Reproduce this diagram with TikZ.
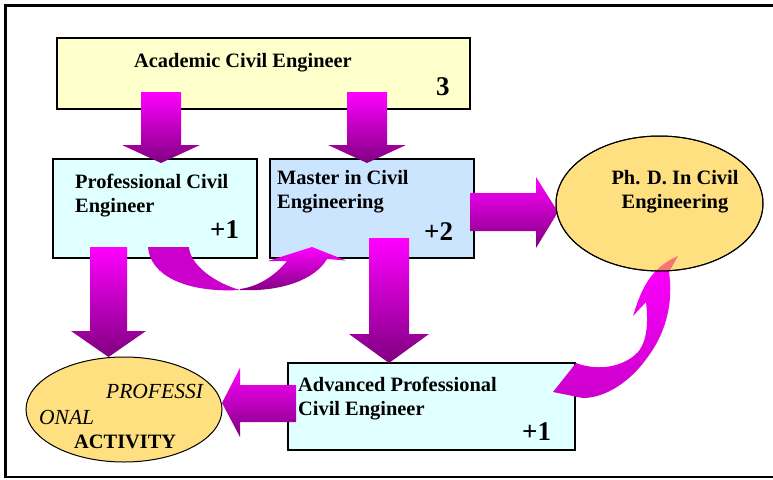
\documentclass[tikz,border=0pt]{standalone}
\usepackage{fontspec}
\setmainfont{Liberation Serif}
\usetikzlibrary{shapes.geometric}

\definecolor{acadfill}{RGB}{255,255,204}
\definecolor{cyanfill}{RGB}{224,255,255}
\definecolor{bluefill}{RGB}{204,229,255}
\definecolor{goldfill}{RGB}{255,224,128}
\definecolor{mag}{RGB}{255,0,255}
\definecolor{mag2}{RGB}{204,0,204}
\definecolor{purp}{RGB}{128,0,128}
\definecolor{purp2}{RGB}{155,0,160}
\definecolor{tippink}{RGB}{245,70,115}

% downward block arrow: centre x, shaft top, shaft half width, head half width, head base, tip
\newcommand\downblock[6]{%
  \path[vshade] (#1-#3,#2) -- (#1+#3,#2) -- (#1+#3,#5) -- (#1+#4,#5) -- (#1,#6)
    -- (#1-#4,#5) -- (#1-#3,#5) -- cycle;}

% ribbon arrow rising from the advanced box into the Ph.D. oval
\def\phdribbon{(553,392) -- (576,363) .. controls (600,372) and (625,366) .. (638,352)
  .. controls (648,340) and (648,320) .. (646,302) -- (633,316)
  .. controls (641,290) and (650,268) .. (678,256) -- (669,272)
  .. controls (673,300) and (668,330) .. (647,358)
  .. controls (630,382) and (605,398) .. (583,398) -- cycle}

\begin{document}
\begin{tikzpicture}[x=1pt,y=-1pt,
  box/.style={draw=black, line width=1.1pt, rectangle, inner sep=0pt},
  oval/.style={draw=black, line width=1pt, ellipse, inner sep=0pt, fill=goldfill},
  lbl/.style={anchor=base west, inner sep=0pt, font=\fontsize{20.4}{24}\selectfont\bfseries},
  ctr/.style={anchor=base, inner sep=0pt, font=\fontsize{20.4}{24}\selectfont\bfseries},
  itl/.style={anchor=base west, inner sep=0pt, font=\fontsize{21.5}{24}\selectfont\itshape},
  numb/.style={anchor=base west, inner sep=0pt, font=\fontsize{27}{30}\selectfont\bfseries},
  vshade/.style={top color=mag, bottom color=purp},
]
\useasboundingbox (0,0) rectangle (773,479);

% outer frame (open on the right)
\draw[line width=3pt] (773,5) -- (5.5,5) -- (5.5,477);
\draw[line width=2.5pt] (4.25,477) -- (773,477);

% boxes
\node[box, fill=acadfill, minimum width=413pt, minimum height=71pt] (acad) at (263.5,73.5) {};
\node[box, fill=cyanfill, minimum width=204pt, minimum height=99pt] (prof) at (155,208.5) {};
\node[box, fill=bluefill, minimum width=204pt, minimum height=99pt] (master) at (372,208.5) {};
\node[box, fill=cyanfill, minimum width=287pt, minimum height=87pt] (adv) at (431.5,406.5) {};

% box texts
\node[lbl] (acadtxt) at (134,67) {Academic Civil Engineer};
\node[numb] (acadnum) at (436,95) {3};
\node[lbl] (proft1) at (75,188) {Professional Civil};
\node[lbl] (proft2) at (75,212) {Engineer};
\node[numb] (profnum) at (210,238) {+1};
\node[lbl] (mast1) at (277,184) {Master in Civil};
\node[lbl] (mast2) at (277,208) {Engineering};
\node[numb] (mastnum) at (424,240) {+2};
\node[lbl] (adv1) at (298,391) {Advanced Professional};
\node[lbl] (adv2) at (298,415) {Civil Engineer};
\node[numb] (advnum) at (522,440) {+1};

% straight block arrows
\downblock{161}{92}{20}{39}{145}{163}
\downblock{367}{92}{20}{39}{145}{163}
\downblock{108.5}{247}{18.5}{37.5}{331}{357}
\downblock{389}{238}{20}{40}{334}{363}
\path[vshade] (470,193) -- (536,193) -- (536,177) -- (558,212) -- (536,248)
  -- (536,231) -- (470,231) -- cycle;
\path[vshade] (296,385) -- (240,385) -- (240,368) -- (222,403) -- (240,437)
  -- (240,422) -- (296,422) -- cycle;

% curved ribbon arrow from the professional box to the master box
\fill[mag2] (148,247) .. controls (150,275) and (185,293) .. (240,290)
  .. controls (215,283) and (190,265) .. (189,247) -- cycle;
\path[vshade] (240,290) .. controls (280,292) and (315,280) .. (327,259)
  -- (346,260.5) -- (312,247) -- (268,261) -- (287,261)
  .. controls (278,272) and (262,286) .. (240,289) -- cycle;

% curved ribbon arrow from the advanced box up to the Ph.D.
\path[top color=mag, middle color=purp2, bottom color=mag2] \phdribbon;

% ovals
\node[oval, minimum width=207pt, minimum height=135pt] (phd) at (659.5,203.5) {};
\node[oval, minimum width=196pt, minimum height=105pt] (activity) at (124,409.5) {};

% arrow tip showing through the Ph.D. oval
\begin{scope}
  \clip (659.5,203.5) ellipse [x radius=103.5pt, y radius=67.5pt];
  \fill[tippink, opacity=0.7] \phdribbon;
\end{scope}
\draw[line width=1pt] (659.5,203.5) ellipse [x radius=103.5pt, y radius=67.5pt];

% oval texts
\node[ctr] (phd1) at (675,184) {Ph. D. In Civil};
\node[ctr] (phd2) at (675,208) {Engineering};
\node[itl] (act1) at (106,398) {PROFESSI};
\node[itl] (act2) at (39,424) {ONAL};
\node[lbl] (act3) at (74,448) {ACTIVITY};
\end{tikzpicture}
\end{document}
